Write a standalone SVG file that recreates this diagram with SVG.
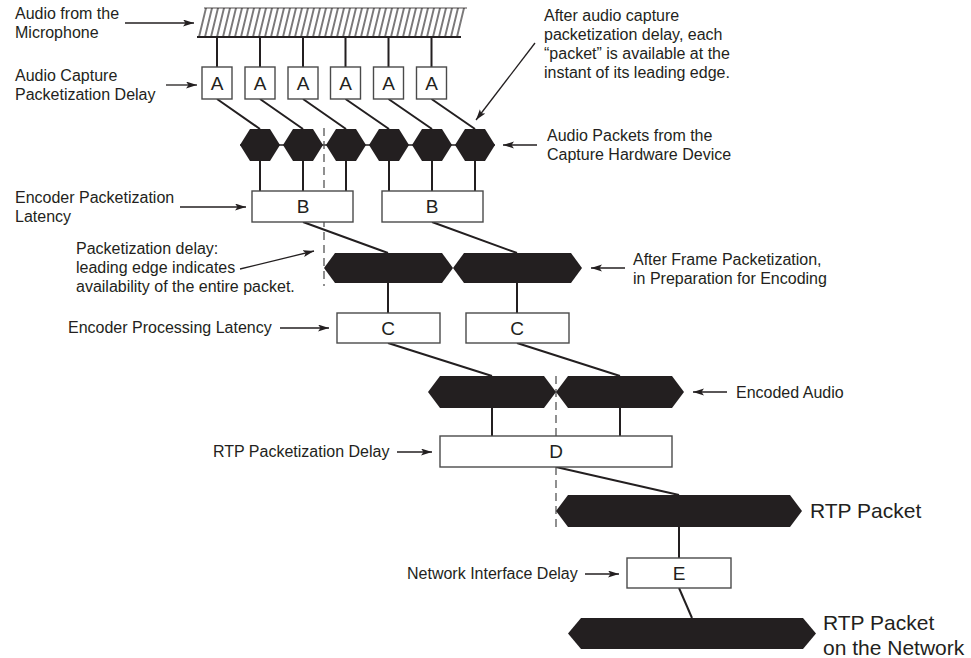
<svg xmlns="http://www.w3.org/2000/svg" width="971" height="658" viewBox="0 0 971 658">
<style>
.t{font-family:"Liberation Sans",Arial,sans-serif;font-size:16px;fill:#231f20}
.big{font-size:21px}
.box{fill:#fff;stroke:#4a4a4a;stroke-width:1.4}
.bl{font-family:"Liberation Sans",Arial,sans-serif;font-size:19px;fill:#231f20;text-anchor:middle}
.pk{fill:#231f20}
.c{stroke:#231f20;stroke-width:2;fill:none}
.ar{stroke:#231f20;stroke-width:1.3;fill:none;marker-end:url(#ah)}
.dash{stroke:#555;stroke-width:1.3;stroke-dasharray:8,5;fill:none}
</style>
<defs>
<marker id="ah" markerWidth="12" markerHeight="8" refX="11" refY="3.5" orient="auto" markerUnits="userSpaceOnUse">
<path d="M0,0 L11,3.5 L0,7 L2.5,3.5 z" fill="#231f20"/>
</marker>
<pattern id="hatch" width="6" height="29" patternUnits="userSpaceOnUse" patternTransform="translate(197,8) skewX(-13.6)">
<line x1="3" y1="-1" x2="3" y2="30" stroke="#231f20" stroke-width="1.2"/>
</pattern>
</defs>

<g id="microphone">
<polygon points="204,8 467,8 460,37 197,37" fill="url(#hatch)"/>
<line x1="204" y1="8" x2="467" y2="8" stroke="#231f20" stroke-width="0.8"/>
<line x1="197" y1="37" x2="461" y2="37" stroke="#231f20" stroke-width="2"/>
</g>

<g id="connectors">
<path class="c" d="M217,37V67 M260,37V67 M303,37V67 M345.5,37V67 M388.5,37V67 M431.5,37V67"/>
<path class="c" d="M217,99L260,129 M260,99L303,129 M303,99L346,129 M345.5,99L389,129 M388.5,99L432,129 M431.5,99L475,129"/>
<line x1="240" y1="145" x2="495" y2="145" stroke="#231f20" stroke-width="1.5"/>
<path class="c" d="M260,161V191 M303,161V191 M346,161V191 M389,161V191 M432,161V191 M475,161V191"/>
<path class="c" d="M303,222L388,253 M432,222L517,253"/>
<path class="c" d="M388,283V313 M517,283V313"/>
<path class="c" d="M388,343L492,376 M517,343L620,376"/>
<path class="c" d="M492,408V436 M620,408V436"/>
<path class="c" d="M556,467L679,495"/>
<path class="c" d="M679,527V558"/>
<path class="c" d="M679,588L692,618"/>
<line class="dash" x1="324" y1="128" x2="324" y2="286"/>
<line class="dash" x1="556" y1="376" x2="556" y2="530"/>
</g>

<g id="A-boxes">
<rect class="box" x="202" y="67" width="30" height="32"/><text class="bl" x="217" y="90">A</text>
<rect class="box" x="245" y="67" width="30" height="32"/><text class="bl" x="260" y="90">A</text>
<rect class="box" x="288" y="67" width="30" height="32"/><text class="bl" x="303" y="90">A</text>
<rect class="box" x="330.5" y="67" width="30" height="32"/><text class="bl" x="345.5" y="90">A</text>
<rect class="box" x="373.5" y="67" width="30" height="32"/><text class="bl" x="388.5" y="90">A</text>
<rect class="box" x="416.5" y="67" width="30" height="32"/><text class="bl" x="431.5" y="90">A</text>
</g>

<g id="audio-packets">
<polygon class="pk" points="240,145 250,129 270,129 280,145 270,161 250,161"/>
<polygon class="pk" points="283,145 293,129 313,129 323,145 313,161 293,161"/>
<polygon class="pk" points="326,145 336,129 356,129 366,145 356,161 336,161"/>
<polygon class="pk" points="369,145 379,129 399,129 409,145 399,161 379,161"/>
<polygon class="pk" points="412,145 422,129 442,129 452,145 442,161 422,161"/>
<polygon class="pk" points="455,145 465,129 485,129 495,145 485,161 465,161"/>
</g>

<g id="B-boxes">
<rect class="box" x="252" y="191" width="101" height="31"/><text class="bl" x="303" y="213">B</text>
<rect class="box" x="382" y="191" width="101" height="31"/><text class="bl" x="432" y="213">B</text>
</g>

<g id="frame-packets">
<polygon class="pk" points="324,268 335,253 442,253 453,268 442,283 335,283"/>
<polygon class="pk" points="453,268 464,253 571,253 582,268 571,283 464,283"/>
</g>

<g id="C-boxes">
<rect class="box" x="337" y="313" width="103" height="30"/><text class="bl" x="388" y="335">C</text>
<rect class="box" x="466" y="313" width="103" height="30"/><text class="bl" x="517" y="335">C</text>
</g>

<g id="encoded-audio">
<polygon class="pk" points="428,392 440,376 544,376 556,392 544,408 440,408"/>
<polygon class="pk" points="556,392 568,376 672,376 684,392 672,408 568,408"/>
</g>

<g id="D-box">
<rect class="box" x="440" y="436" width="232" height="31"/><text class="bl" x="556" y="458">D</text>
</g>

<g id="rtp-packet">
<polygon class="pk" points="556,511 568,495 790,495 802,511 790,527 568,527"/>
</g>

<g id="E-box">
<rect class="box" x="627" y="558" width="104" height="30"/><text class="bl" x="679" y="580">E</text>
</g>

<g id="rtp-network">
<polygon class="pk" points="568,633.5 581,618 803,618 816,633.5 803,649 581,649"/>
</g>

<g id="labels">
<text class="t" x="15" y="19">Audio from the</text>
<text class="t" x="15" y="38">Microphone</text>
<line class="ar" x1="125" y1="23" x2="194" y2="23"/>

<text class="t" x="15" y="81">Audio Capture</text>
<text class="t" x="15" y="100">Packetization Delay</text>
<line class="ar" x1="166" y1="85" x2="197" y2="85"/>

<text class="t" x="544" y="21">After audio capture</text>
<text class="t" x="544" y="40">packetization delay, each</text>
<text class="t" x="544" y="59">“packet” is available at the</text>
<text class="t" x="544" y="78">instant of its leading edge.</text>
<line class="ar" x1="535" y1="43" x2="476" y2="120"/>

<text class="t" x="547" y="141">Audio Packets from the</text>
<text class="t" x="547" y="160">Capture Hardware Device</text>
<line class="ar" x1="537" y1="145" x2="503" y2="145"/>

<text class="t" x="15" y="203">Encoder Packetization</text>
<text class="t" x="15" y="222">Latency</text>
<line class="ar" x1="180" y1="207" x2="246" y2="207"/>

<text class="t" x="76" y="254">Packetization delay:</text>
<text class="t" x="76" y="273">leading edge indicates</text>
<text class="t" x="76" y="292">availability of the entire packet.</text>
<line class="ar" x1="240" y1="269" x2="314" y2="251"/>

<text class="t" x="633" y="265">After Frame Packetization,</text>
<text class="t" x="633" y="284">in Preparation for Encoding</text>
<line class="ar" x1="625" y1="268" x2="591" y2="268"/>

<text class="t" x="68" y="333">Encoder Processing Latency</text>
<line class="ar" x1="280" y1="328" x2="329" y2="328"/>

<text class="t" x="736" y="398">Encoded Audio</text>
<line class="ar" x1="727" y1="392" x2="693" y2="392"/>

<text class="t" x="213" y="457">RTP Packetization Delay</text>
<line class="ar" x1="397" y1="452" x2="432" y2="452"/>

<text class="t big" x="810" y="518">RTP Packet</text>

<text class="t" x="407" y="579">Network Interface Delay</text>
<line class="ar" x1="585" y1="574" x2="619" y2="574"/>

<text class="t big" x="823" y="630">RTP Packet</text>
<text class="t big" x="823" y="655">on the Network</text>
</g>
</svg>
